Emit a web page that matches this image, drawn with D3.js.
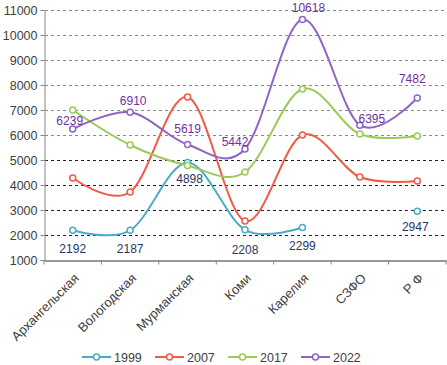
<!DOCTYPE html>
<html><head><meta charset="utf-8">
<script src="https://cdn.jsdelivr.net/npm/d3@7"></script>
<style>body{margin:0;background:#fff}svg{display:block}text{font-family:"Liberation Sans",Arial,sans-serif}</style>
</head><body><svg id="c" width="447" height="365"></svg>
<script>
const categories = ["Архангельская","Вологодская","Мурманская","Коми","Карелия","СЗФО","Р Ф"];
const years = ["1999","2007","2017","2022"];
const v1999 = [2192, 2187, 4898, 2208, 2299, null, 2947];
const v2007 = [4280, 3720, 7520, 2560, 6000, 4320, 4160];
const v2017 = [7000, 5600, 4780, 4520, 7840, 6040, 5960];
const v2022 = [6239, 6910, 5619, 5442, 10618, 6395, 7482];
const yTicks = [1000,2000,3000,4000,5000,6000,7000,8000,9000,10000,11000];
const colors = ["#4bacc6","#f05a46","#9bcb55","#9063c6"];
const series = [v1999, v2007, v2017, v2022];
// label placement (style, not data)
const lab1999Off = [[0,23],[0,23],[2,20],[0,24],[0,22],null,[-2,20]];
const lab2022Off = [[-3,-4],[3,-7],[0,-12],[-10,-3],[6,-8],[12,-2],[-5,-15]];

const svg = d3.select("#c");
const x = d3.scaleBand().domain(categories).range([44, 446]);
const y = d3.scaleLinear().domain([1000, 11000]).range([260, 10]);
const cx = d => x(d) + x.bandwidth()/2;

// gridlines
svg.append("g").selectAll("line").data(yTicks.slice(1)).join("line")
  .attr("x1", 45).attr("x2", 446).attr("y1", d => y(d)+0.5).attr("y2", d => y(d)+0.5)
  .attr("stroke", d => d <= 5000 ? "#222" : "#8a8a8a").attr("stroke-width", 1)
  .attr("stroke-dasharray", "3,3");

// y axis
const ya = svg.append("g").attr("transform","translate(44.5,0)")
  .call(d3.axisLeft(y).tickValues(yTicks).tickFormat(d3.format("d")).tickSize(4).tickSizeOuter(0));
ya.select(".domain").attr("stroke","#868686");
ya.selectAll(".tick line").attr("stroke","#868686");
ya.selectAll(".tick text").attr("font-size", 12.5).attr("fill","#404040").attr("x",-7);

// x axis
const xa = svg.append("g").attr("transform","translate(0,260.5)")
  .call(d3.axisBottom(x).tickSize(0).tickSizeOuter(0));
xa.select(".domain").attr("stroke","#333");
xa.selectAll(".tick text").remove();
xa.selectAll(".tick line").remove();
xa.append("g").selectAll("line").data(categories.concat(["__end"])).join("line")
  .attr("x1", (d,i) => i < categories.length ? x(d) : 446)
  .attr("x2", (d,i) => i < categories.length ? x(d) : 446)
  .attr("y1", 0).attr("y2", 4).attr("stroke", "#868686");

svg.append("g").selectAll("text").data(categories).join("text")
  .attr("transform", d => `translate(${cx(d)+7},${279}) rotate(-45)`)
  .attr("text-anchor","end").attr("font-size", 13).attr("fill","#404040")
  .text(d => d);

// lines
const line = d3.line().defined(d => d.v != null)
  .x(d => cx(d.c)).y(d => y(d.v)).curve(d3.curveCatmullRom.alpha(0));
series.forEach((s, i) => {
  const pts = categories.map((c, j) => ({c, v: s[j]}));
  svg.append("path").datum(pts).attr("d", line).attr("fill","none")
    .attr("stroke", colors[i]).attr("stroke-width", 2);
  svg.append("g").selectAll("circle").data(pts.filter(p => p.v != null)).join("circle")
    .attr("cx", p => cx(p.c)).attr("cy", p => y(p.v)).attr("r", 3)
    .attr("fill","#fff").attr("stroke", colors[i]).attr("stroke-width", 1.5);
});

// data labels
const pts1999 = categories.map((c, j) => ({c, v: v1999[j], o: lab1999Off[j]})).filter(p => p.v != null);
svg.append("g").selectAll("text").data(pts1999).join("text")
  .attr("x", p => cx(p.c) + p.o[0]).attr("y", p => y(p.v) + p.o[1])
  .attr("text-anchor","middle").attr("font-size", 12).attr("fill","#1f3864").text(p => p.v);
const pts2022 = categories.map((c, j) => ({c, v: v2022[j], o: lab2022Off[j]}));
svg.append("g").selectAll("text").data(pts2022).join("text")
  .attr("x", p => cx(p.c) + p.o[0]).attr("y", p => y(p.v) + p.o[1])
  .attr("text-anchor","middle").attr("font-size", 12).attr("fill","#7030a0").text(p => p.v);

// legend
const lx = [82, 155, 228, 301];
const lg = svg.append("g").selectAll("g").data(years).join("g")
  .attr("transform", (d,i) => `translate(${lx[i]},357)`);
lg.append("line").attr("x1",0).attr("x2",29).attr("stroke",(d,i)=>colors[i]).attr("stroke-width",2);
lg.append("circle").attr("cx",14.5).attr("r",3).attr("fill","#fff").attr("stroke",(d,i)=>colors[i]).attr("stroke-width",1.5);
lg.append("text").attr("x",32).attr("y",4.5).attr("font-size",12.5).attr("fill","#404040").text(d=>d);
</script></body></html>
